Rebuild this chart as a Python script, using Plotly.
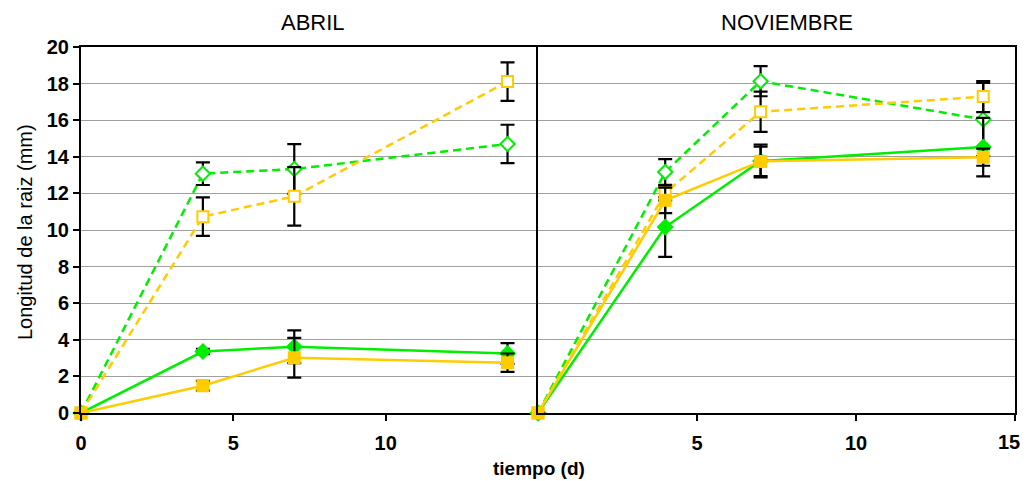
import plotly.graph_objects as go

days = [0, 4, 7, 14]

# ABRIL
abr_green_dash = [0, 13.08, 13.33, 14.70]
abr_green_dash_err = [None, 0.62, 1.36, 1.05]
abr_orange_dash = [0, 10.73, 11.84, 18.11]
abr_orange_dash_err = [None, 1.05, 1.60, 1.05]
abr_green_solid = [0, 3.36, 3.62, 3.25]
abr_green_solid_err = [None, 0.15, 0.90, 0.57]
abr_orange_solid = [0, 1.49, 3.02, 2.75]
abr_orange_solid_err = [None, 0.27, 1.09, 0.50]

# NOVIEMBRE
nov_green_dash = [0, 13.17, 18.13, 16.04]
nov_green_dash_err = [None, 0.70, 0.82, 2.00]
nov_orange_dash = [0, 12.02, 16.46, 17.29]
nov_orange_dash_err = [None, 0.40, 1.10, 0.85]
nov_green_solid = [0, 10.16, 13.77, 14.53]
nov_green_solid_err = [None, 1.63, 0.90, 1.60]
nov_orange_solid = [0, 11.62, 13.75, 13.98]
nov_orange_solid_err = [None, 0.70, 0.80, 0.47]

panel_titles = ["ABRIL", "NOVIEMBRE"]
y_ticks = list(range(0, 21, 2))
x_ticks_left = [0, 5, 10]
x_ticks_right = [5, 10, 15]

GREEN = "#00EE00"
ORANGE = "#FFCC00"
FONT = "Liberation Sans, Arial, sans-serif"

fig = go.Figure()


def add(x_axis, y_axis, y, err, color, dashed, symbol):
    fig.add_trace(go.Scatter(
        x=days, y=y, xaxis=x_axis, yaxis=y_axis, mode="lines+markers",
        cliponaxis=False, showlegend=False,
        line=dict(color=color, width=2.5, dash="8px,5px" if dashed else "solid"),
        marker=dict(symbol=symbol, size=11,
                    color="white" if dashed else color,
                    line=dict(color=color, width=2)),
        error_y=dict(type="data", array=err, color="black", thickness=2.2, width=7),
    ))


for xa, ya, gd, gde, od, ode, gs, gse, os_, ose in [
    ("x", "y", abr_green_dash, abr_green_dash_err, abr_orange_dash, abr_orange_dash_err,
     abr_green_solid, abr_green_solid_err, abr_orange_solid, abr_orange_solid_err),
    ("x2", "y2", nov_green_dash, nov_green_dash_err, nov_orange_dash, nov_orange_dash_err,
     nov_green_solid, nov_green_solid_err, nov_orange_solid, nov_orange_solid_err),
]:
    add(xa, ya, gd, gde, GREEN, True, "diamond")
    add(xa, ya, od, ode, ORANGE, True, "square")
    add(xa, ya, gs, gse, GREEN, False, "diamond")
    add(xa, ya, os_, ose, ORANGE, False, "square")

# page offset of the figure inside the browser page (default body margin)
OFF = 8
W, H = 1030 - OFF, 481 - OFF
L, T = 81 - OFF, 47 - OFF
R = W - (1015 - OFF)
B = H - (413 - OFF)
PW, PH = W - L - R, H - T - B
split = (538 - OFF - L) / PW

tickfont = dict(family=FONT, size=20, color="black", weight="bold")

common_x = dict(range=[0, 15], showline=True, linecolor="black", linewidth=2, mirror=True,
                ticks="outside", ticklen=6, tickwidth=2, tickcolor="black", automargin=False,
                showgrid=False, zeroline=False, tickfont=tickfont, ticklabelstandoff=5)
common_y = dict(range=[0, 20], showline=True, linecolor="black", linewidth=2,
                showgrid=True, gridcolor="#A0A0A0", gridwidth=1, zeroline=False,
                tickvals=y_ticks, automargin=False)


def px(xp):
    return (xp - OFF - L) / PW


def py(yp):
    return (H - B - (yp - OFF)) / PH


def ann(text, x, y, xanchor="center", **kw):
    return dict(text=text, x=px(x), y=py(y), xref="paper", yref="paper",
                xanchor=xanchor, yanchor="middle", showarrow=False, **kw)


right_text = [str(v) for v in x_ticks_right]

fig.update_layout(
    width=W, height=H,
    margin=dict(l=L, r=R, t=T, b=B),
    paper_bgcolor="white", plot_bgcolor="white",
    font=dict(family=FONT, color="black"),
    xaxis=dict(domain=[0, split], anchor="y", tickvals=x_ticks_left, **common_x),
    xaxis2=dict(domain=[split, 1], anchor="y2", tickvals=x_ticks_right,
                ticktext=right_text[:-1] + [""], **common_x),
    yaxis=dict(anchor="x", ticks="outside", ticklen=6, tickwidth=2, tickcolor="black",
               tickfont=tickfont, mirror=False, **common_y),
    yaxis2=dict(anchor="x2", matches="y", showticklabels=False, ticks="", mirror=True, **common_y),
    annotations=[
        ann(panel_titles[0], 313, 22, font=dict(size=22)),
        ann(panel_titles[1], 787, 22, font=dict(size=22)),
        ann("tiempo (d)", 539, 468, font=dict(size=19, weight="bold")),
        ann("Longitud de la raiz (mm)", 25, 232, textangle=-90, font=dict(size=20)),
        # last tick label of the right panel, kept inside the visible page
        ann(right_text[-1], 1022, 442, xanchor="right", font=tickfont),
    ],
)

fig.write_html("out.html")
